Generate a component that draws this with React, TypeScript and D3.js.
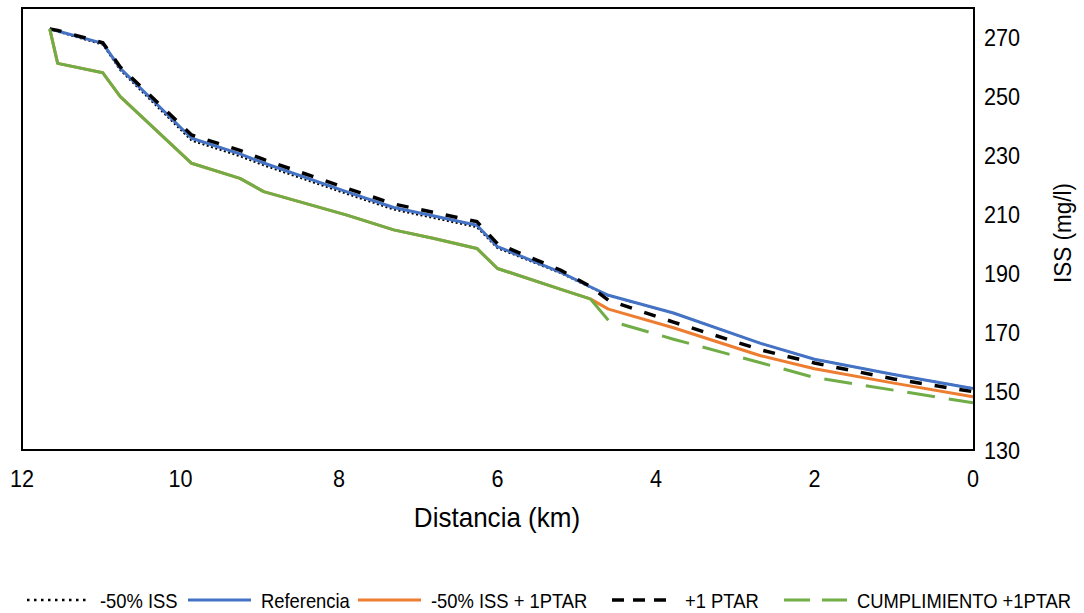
import React from "react";
import * as d3 from "d3";

// distance along river (km) shared by all series
const distance = [11.65, 11.55, 10.98, 10.76, 9.86, 9.25, 8.95, 7.9, 7.31, 6.8, 6.26, 6.0, 5.2, 4.83, 4.6, 3.78, 2.68, 2.0, 1.0, 0];

const menos50 = [272.9, 272.0, 267.6, 258.9, 235.0, 229.7, 226.6, 216.9, 211.6, 208.7, 205.6, 198.5, 190.0, 185.2, 182.4, 176.5, 166.2, 160.8, 155.6, 150.9];
const referencia = [272.9, 272.2, 268.0, 259.5, 235.8, 230.5, 227.4, 217.6, 212.3, 209.4, 206.3, 199.0, 190.3, 185.4, 182.5, 176.5, 166.2, 160.8, 155.6, 150.9];
const menos50Ptar = [272.9, 261.2, 258.0, 249.9, 227.3, 222.2, 217.7, 209.7, 204.7, 201.8, 198.4, 191.6, 184.5, 181.3, 177.8, 171.5, 162.0, 157.6, 152.7, 148.1];
const masPtar = [272.9, 272.4, 268.2, 260.0, 236.9, 231.7, 228.6, 218.8, 213.5, 210.6, 207.5, 200.0, 191.0, 185.5, 180.8, 173.4, 164.0, 159.5, 154.1, 149.8];
const cumplimiento = [272.9, 261.2, 258.0, 249.9, 227.3, 222.2, 217.7, 209.7, 204.7, 201.8, 198.4, 191.6, 184.5, 181.3, 174.0, 167.6, 159.6, 154.6, 150.3, 146.0];

const xTicks = [12, 10, 8, 6, 4, 2, 0];
const yTicks = [130, 150, 170, 190, 210, 230, 250, 270];

const legendItems = [
  { label: "-50% ISS", color: "#000", dash: "2.5,4.5", width: 2.5 },
  { label: "Referencia", color: "#4472C4", dash: null, width: 3 },
  { label: "-50% ISS + 1PTAR", color: "#ED7D31", dash: null, width: 3 },
  { label: "+1 PTAR", color: "#000", dash: "12,9", width: 3.5 },
  { label: "CUMPLIMIENTO +1PTAR", color: "#70AD47", dash: "26,12", width: 3 },
];
const legendX = [27, 188, 358, 612, 784];

const FONT = "'Liberation Sans', Arial, sans-serif";

const App = () => {
  const width = 1084;
  const height = 613;
  const x = d3.scaleLinear().domain([12, 0]).range([22, 973]);
  const y = d3.scaleLinear().domain([130, 280]).range([450, 8]);

  const line = d3
    .line<number>()
    .x((d, i) => x(distance[i]))
    .y((d) => y(d));

  // green series is solid while it overlaps the orange one, dashed after
  const splitIdx = distance.indexOf(4.83);
  const greenSolid = d3
    .line<number>()
    .x((d, i) => x(distance[i]))
    .y((d) => y(d))(cumplimiento.slice(0, splitIdx + 1));
  const greenDashed = d3
    .line<number>()
    .x((d, i) => x(distance[i + splitIdx]))
    .y((d) => y(d))(cumplimiento.slice(splitIdx));

  return (
    <svg width={width} height={height} style={{ position: "absolute", left: 0, top: 0, background: "#fff" }}>
      <rect x={0} y={0} width={width} height={height} fill="#fff" />
      <path d={line(menos50) || ""} fill="none" stroke="#000" strokeWidth={2} strokeDasharray="2,2.5" />
      <path d={line(referencia) || ""} fill="none" stroke="#4472C4" strokeWidth={3} strokeLinejoin="round" />
      <path d={line(menos50Ptar) || ""} fill="none" stroke="#ED7D31" strokeWidth={3} strokeLinejoin="round" />
      <path d={line(masPtar) || ""} fill="none" stroke="#000" strokeWidth={3.5} strokeDasharray="12,13" />
      <path d={greenSolid || ""} fill="none" stroke="#70AD47" strokeWidth={3} strokeLinejoin="round" />
      <path d={greenDashed || ""} fill="none" stroke="#70AD47" strokeWidth={3} strokeDasharray="28,14" />

      <rect x={22} y={8} width={952} height={442} fill="none" stroke="#000" strokeWidth={2} />

      {xTicks.map((t) => (
        <text
          key={t}
          transform={`translate(${x(t)},487) scale(0.9,1)`}
          textAnchor="middle"
          fontFamily={FONT}
          fontSize={24}
          fill="#000"
        >
          {t}
        </text>
      ))}
      {yTicks.map((t) => (
        <text
          key={t}
          transform={`translate(984,${y(t) + 8.5}) scale(0.9,1)`}
          textAnchor="start"
          fontFamily={FONT}
          fontSize={24}
          fill="#000"
        >
          {t}
        </text>
      ))}
      <text
        transform="translate(497,527) scale(0.93,1)"
        textAnchor="middle"
        fontFamily={FONT}
        fontSize={28}
        fill="#000"
      >
        Distancia (km)
      </text>
      <text
        transform="translate(1071,233) rotate(-90) scale(0.94,1)"
        textAnchor="middle"
        fontFamily={FONT}
        fontSize={24}
        fill="#000"
      >
        ISS (mg/l)
      </text>

      {legendItems.map((item, i) => (
        <g key={item.label} transform={`translate(${legendX[i]},600)`}>
          <line
            x1={0}
            x2={63}
            y1={0}
            y2={0}
            stroke={item.color}
            strokeWidth={item.width}
            strokeDasharray={item.dash || undefined}
          />
          <text
            transform="translate(73,7.5) scale(0.875,1)"
            fontFamily={FONT}
            fontSize={21}
            fill="#000"
          >
            {item.label}
          </text>
        </g>
      ))}
    </svg>
  );
};

export default App;
